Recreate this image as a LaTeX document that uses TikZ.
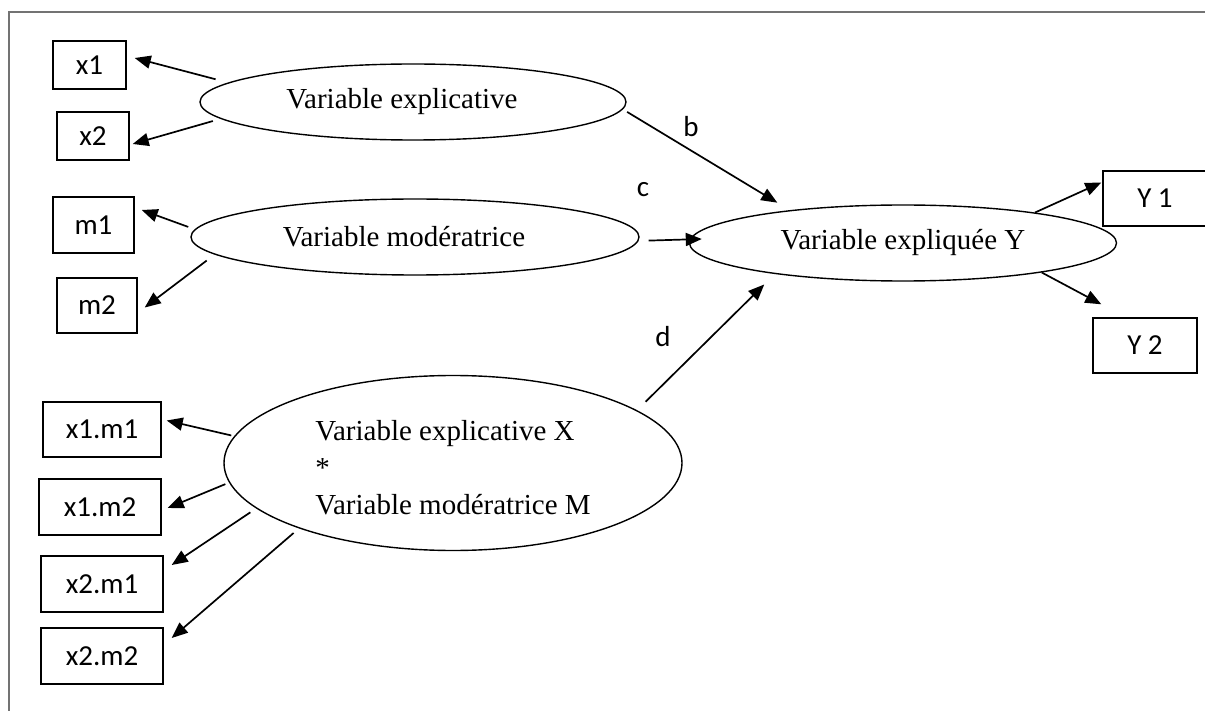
\documentclass[tikz,border=0pt]{standalone}
\usepackage{fontspec}
\setmainfont{Liberation Serif}
\newfontfamily\calibri{Carlito}
\usetikzlibrary{shapes.geometric, arrows.meta}

\begin{document}
\begin{tikzpicture}[x=1pt, y=-1pt,
        var/.style={draw=black!100, ellipse, line width=1.4pt, inner sep=0pt, font=\fontsize{29}{37}\selectfont},
        ind/.style={draw=black!100, rectangle, line width=1.4pt, inner sep=0pt, font=\calibri\fontsize{29}{35}\selectfont},
        lbl/.style={font=\calibri\fontsize{29}{35}\selectfont},
        arr/.style={-{Triangle[length=16pt, width=13pt]}, line width=1.7pt, color=black!100}]
                \useasboundingbox (0,0) rectangle (1205,711);
                \clip (0,0) rectangle (1205,711);
                \draw[color=black!55, line width=1.2pt] (9,711) -- (9,12) -- (1205,12);

                \node[var, minimum width=426pt, minimum height=76pt] (expl) at (413,102) {Variable explicative\hspace*{22pt}};
                \node[var, minimum width=448pt, minimum height=76pt] (mod) at (415,237) {Variable modératrice\hspace*{22pt}};
                \node[var, minimum width=427pt, minimum height=76pt] (expy) at (903,243) {Variable expliquée Y};
                \node[var, minimum width=458pt, minimum height=175pt, align=left] (inter) at (453,463)
                    {\rule{0pt}{30pt}Variable explicative X\\*\\Variable modératrice M};

                \node[ind, minimum width=73pt, minimum height=48pt] (x1) at (89.5,65) {x1};
                \node[ind, minimum width=72pt, minimum height=48pt] (x2) at (93,136) {x2};
                \node[ind, minimum width=81pt, minimum height=56pt] (m1) at (93.5,225) {m1};
                \node[ind, minimum width=80pt, minimum height=55pt] (m2) at (97,305.5) {m2};
                \node[ind, minimum width=118pt, minimum height=55pt] (x1m1) at (102,429.5) {x1.m1};
                \node[ind, minimum width=122pt, minimum height=56pt] (x1m2) at (100,507) {x1.m2};
                \node[ind, minimum width=122pt, minimum height=56pt] (x2m1) at (102,584) {x2.m1};
                \node[ind, minimum width=122pt, minimum height=56pt] (x2m2) at (102,656) {x2.m2};
                \node[ind, minimum width=104pt, minimum height=55pt] (y1) at (1155,198.5) {Y 1};
                \node[ind, minimum width=104pt, minimum height=55pt] (y2) at (1145,345.5) {Y 2};

                \node[lbl] (lb) at (691,127) {b};
                \node[lbl] (lc) at (643,190) {c};
                \node[lbl] (ld) at (663,337) {d};

                \draw[arr, shorten <=13pt] (expl.174) -- ([shift={(8,-7)}]x1.east);
                \draw[arr, shorten <=8pt] (expl.185) -- ([shift={(3,8)}]x2.east);
                \draw[arr, shorten <=7pt] (mod.178) -- ([shift={(7,-15)}]m1.east);
                \draw[arr, shorten <=10pt] (mod.185) -- ([shift={(7,2)}]m2.east);
                \draw[arr, shorten <=3pt] (inter.173) -- ([shift={(5,-9)}]x1m1.east);
                \draw[arr, shorten <=4pt] (inter.185) -- ([shift={(6,1)}]x1m2.east);
                \draw[arr, shorten <=7pt] (inter.193) -- ([shift={(8,-19)}]x2m1.east);
                \draw[arr, shorten <=7pt] (inter.203) -- ([shift={(8,-18)}]x2m2.east);

                \draw[arr, shorten <=5pt] (expl.358) -- ([shift={(0,-9)}]expy.166);
                \draw[arr, shorten <=10pt] (mod.359) -- ([shift={(13,-4)}]expy.west);
                \draw[arr, shorten <=12pt] (inter.16) -- ([shift={(0,12)}]expy.192);

                \draw[arr] (expy.13) -- ([shift={(-1,-16)}]y1.west);
                \draw[arr] (expy.348) -- ([shift={(9,-13)}]y2.north west);
            \end{tikzpicture}
\end{document}
